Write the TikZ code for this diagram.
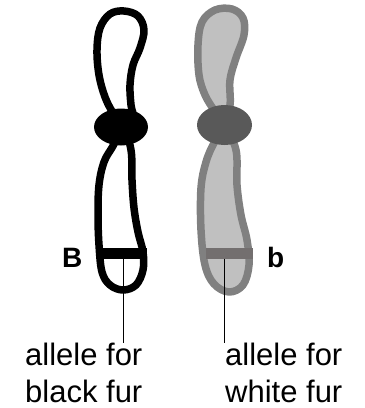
\documentclass[tikz,border=0pt]{standalone}
\usepackage{fontspec}
\setmainfont{Liberation Sans}
\usetikzlibrary{shapes.geometric}
\definecolor{armgrey}{HTML}{C0C0C0}
\definecolor{rimgrey}{HTML}{808080}
\definecolor{cengrey}{HTML}{595959}
\definecolor{bandgrey}{HTML}{736F6F}
\begin{document}
\begin{tikzpicture}[x=1pt,y=-1pt,
  arm/.style={line width=7.5pt,line join=round},
  cen/.style={ellipse,inner sep=0pt,minimum width=54pt,minimum height=37pt},
  band/.style={inner sep=0pt,minimum width=46pt,minimum height=11pt},
  lbl/.style={font=\fontsize{31}{37}\selectfont,align=left,inner sep=0pt,anchor=north west},
  gene/.style={font=\fontsize{28}{28}\selectfont\bfseries,inner sep=0pt,anchor=base west}]
\useasboundingbox (0,0) rectangle (365,408);
% chromosome carrying B
\begin{scope}
\draw[arm,fill=white] plot[smooth cycle,tension=0.6] coordinates {(113,113) (105,97) (99,75) (97,50) (100,28) (110,14) (124,11) (138,16) (144,30) (140,48) (133,65) (130,85) (131,105) (133,118) (123,128)};
\draw[arm,fill=white] plot[smooth cycle,tension=0.6] coordinates {(123,128) (113,146) (104,162) (99,185) (98,215) (99,245) (102,272) (110,285) (123,290) (136,285) (143,270) (143,252) (138,232) (134,208) (132,180) (131,150)};
\node[cen,fill=black] (cenB) at (121,127) {};
\node[band,fill=black] (bandB) at (123.5,253) {};
\node[gene] (geneB) at (62,267) {B};
\node[lbl] (labB) at (25,343) {allele for\\black fur};
\coordinate (tipB) at (123,258.5);
\draw[thin] (tipB) -- (tipB |- labB.north);
\end{scope}
% chromosome carrying b
\begin{scope}
\draw[arm,draw=rimgrey,fill=armgrey] plot[smooth cycle,tension=0.6] coordinates {(214,110) (205,95) (199,75) (198,45) (202,22) (215,10) (232,9) (243,18) (244,35) (236,58) (230,80) (230,105) (224,124)};
\draw[arm,draw=rimgrey,fill=armgrey] plot[smooth cycle,tension=0.6] coordinates {(224,128) (214,143) (206,162) (201,188) (201,230) (205,265) (214,284) (229,292) (243,285) (249,265) (247,240) (241,215) (237,185) (236,150)};
\node[cen,fill=cengrey,minimum height=40pt,minimum width=55pt] (cenb) at (224.5,125) {};
\node[band,fill=bandgrey,minimum width=47pt] (bandb) at (229.5,253) {};
\node[gene] (geneb) at (267,267) {b};
\node[lbl] (labb) at (225,343) {allele for\\white fur};
\coordinate (tipb) at (224,258.5);
\draw[thin] (tipb) -- (tipb |- labb.north);
\end{scope}
\end{tikzpicture}
\end{document}
